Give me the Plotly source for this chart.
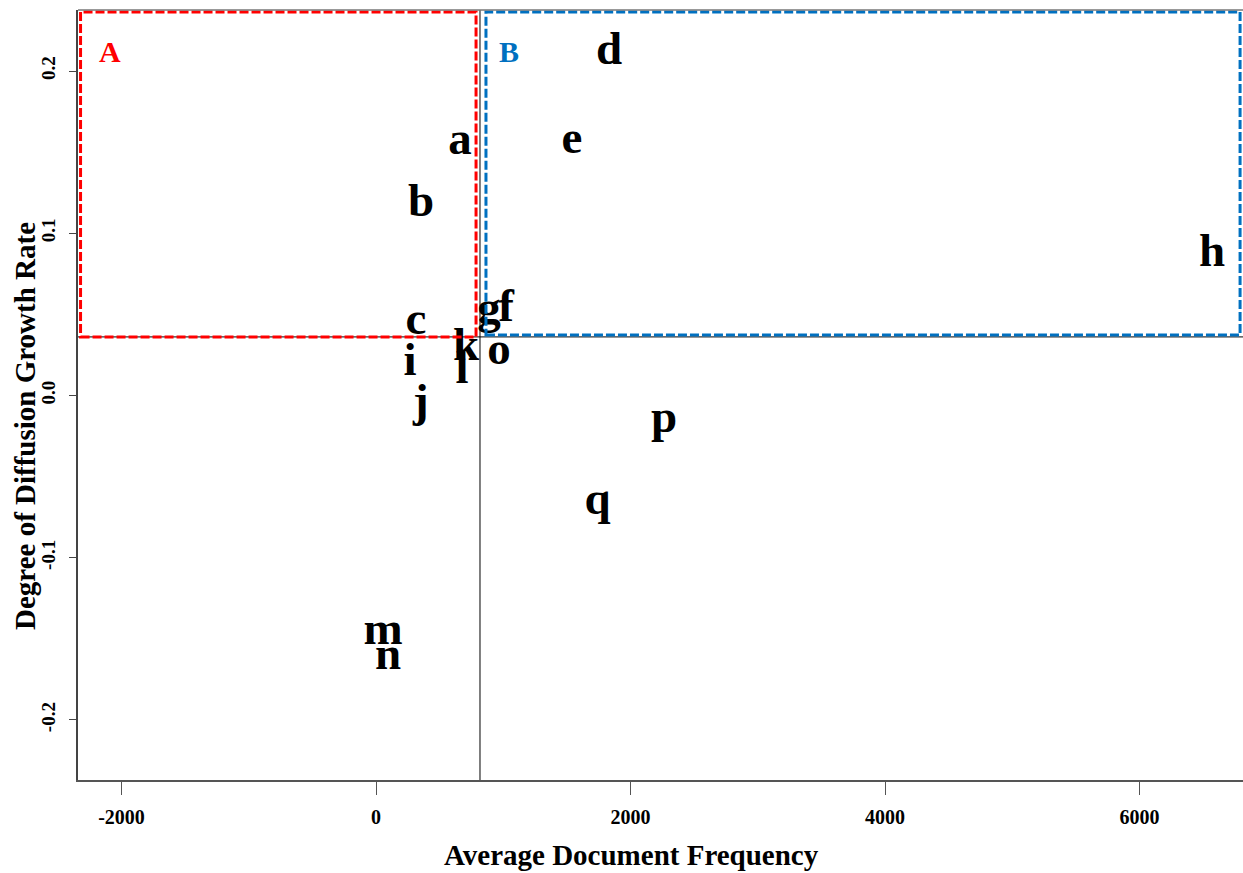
import plotly.graph_objects as go

# ---- data ----
labels = ["a", "b", "c", "d", "e", "f", "g", "h", "i", "j", "k", "l", "m", "n", "o", "p", "q"]
avg_doc_freq = [660, 354, 314, 1831, 1540, 1022, 888, 6570, 267, 353, 707, 676, 55, 94, 967, 2263, 1741]
growth_rate = [0.1560, 0.1178, 0.0451, 0.2115, 0.1566, 0.0531, 0.0519, 0.0870, 0.0198, -0.0054,
               0.0291, 0.0149, -0.1460, -0.1614, 0.0266, -0.0150, -0.0660]

x_ticks = [-2000, 0, 2000, 4000, 6000]
y_ticks = [-0.2, -0.1, 0.0, 0.1, 0.2]
y_tick_text = ["-0.2", "-0.1", "0.0", "0.1", "0.2"]

x_split = 817       # average document frequency divider
y_split = 0.0361    # growth-rate divider

x_range = [-2342, 6813]
y_range = [-0.2370, 0.2376]

box_a = dict(x0=-2322, x1=786, y0=0.0361, y1=0.2364)
box_b = dict(x0=864, x1=6790, y0=0.0373, y1=0.2364)

SERIF = "Liberation Serif"

fig = go.Figure()
fig.add_trace(go.Scatter(
    x=avg_doc_freq, y=growth_rate, text=labels, mode="text",
    textposition="middle center",
    textfont=dict(family=SERIF, size=47, color="black", weight="bold"),
    hoverinfo="skip", showlegend=False, cliponaxis=False,
))

shapes = [
    # dividing lines
    dict(type="line", xref="x", yref="paper", x0=x_split, x1=x_split, y0=0, y1=1,
         line=dict(color="black", width=1)),
    dict(type="line", xref="paper", yref="y", x0=0, x1=1, y0=y_split, y1=y_split,
         line=dict(color="black", width=1)),
    # quadrant boxes
    dict(type="rect", xref="x", yref="y", **box_a,
         line=dict(color="#FF0000", width=3, dash="9px,3px")),
    dict(type="rect", xref="x", yref="y", **box_b,
         line=dict(color="#0070C0", width=3, dash="9px,3px")),
    # top frame line
    dict(type="line", xref="paper", yref="paper", x0=0, x1=1, y0=1, y1=1,
         line=dict(color="#777777", width=1.5)),
]

annotations = [
    dict(text="<b>A</b>", xref="paper", yref="paper", x=0.0275, y=0.9455,
         xanchor="center", yanchor="middle", showarrow=False,
         font=dict(family=SERIF, size=30, color="#FF0000")),
    dict(text="<b>B</b>", xref="paper", yref="paper", x=0.370, y=0.9455,
         xanchor="center", yanchor="middle", showarrow=False,
         font=dict(family=SERIF, size=30, color="#0070C0")),
    dict(text="<b>Average Document Frequency</b>", xref="paper", yref="paper",
         x=0.4747, y=-0.0974, xanchor="center", yanchor="middle", showarrow=False,
         font=dict(family=SERIF, size=29, color="black")),
    dict(text="<b>Degree of Diffusion Growth Rate</b>", xref="paper", yref="paper",
         x=-0.0455, y=0.4597, xanchor="center", yanchor="middle", showarrow=False,
         textangle=-90, font=dict(family=SERIF, size=29, color="black")),
]

fig.update_layout(
    width=1243, height=873,
    margin=dict(l=78, r=0, t=10, b=93),
    plot_bgcolor="white", paper_bgcolor="white",
    shapes=shapes, annotations=annotations,
    xaxis=dict(range=x_range, tickvals=x_ticks, ticktext=[str(v) for v in x_ticks],
               showgrid=False, zeroline=False, showline=True, linecolor="#555555", linewidth=2,
               ticks="outside", ticklen=13, tickcolor="#555555", tickwidth=1,
               ticklabelstandoff=5,
               tickfont=dict(family=SERIF, size=20, color="black", weight="bold")),
    yaxis=dict(range=y_range, tickvals=y_ticks, ticktext=y_tick_text,
               showgrid=False, zeroline=False, showline=True, linecolor="#444444", linewidth=1.5,
               ticks="outside", ticklen=7, tickcolor="#444444", tickwidth=1,
               tickangle=-90, ticklabelstandoff=7,
               tickfont=dict(family=SERIF, size=19, color="black", weight="bold")),
)

fig.write_html("out.html", post_script="document.body.style.margin='0px';",
               config={"displayModeBar": False})
